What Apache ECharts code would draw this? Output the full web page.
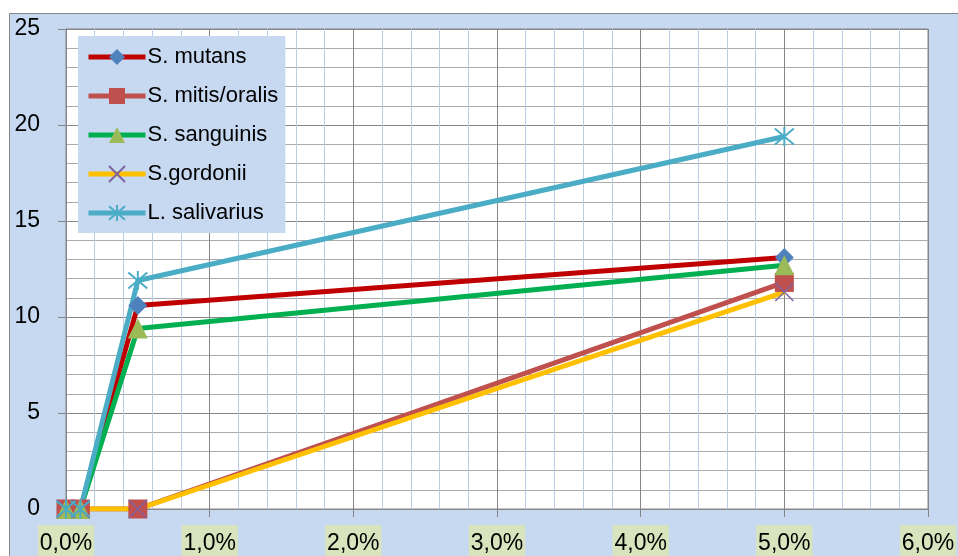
<!DOCTYPE html>
<html>
<head>
<meta charset="utf-8">
<script src="https://cdn.jsdelivr.net/npm/echarts@6/dist/echarts.min.js"></script>
<style>
  html, body { margin: 0; padding: 0; background: #ffffff; }
  #chart { width: 958px; height: 556px; }
</style>
</head>
<body>
<div id="chart"></div>
<script>
// Concentration (%) on the x axis
const concentrations = [0, 0.1, 0.5, 5];

// Measured values per species
const sMutans      = [0, 0, 10.6, 13.1];
const sMitisOralis = [0, 0, 0, 11.8];
const sSanguinis   = [0, 0, 9.4, 12.7];
const sGordonii    = [0, 0, 0, 11.3];
const lSalivarius  = [0, 0, 11.9, 19.4];

const seriesNames = ['S. mutans', 'S. mitis/oralis', 'S. sanguinis', 'S.gordonii', 'L. salivarius'];

// Axis tick labels
const xTickLabels = ['0,0%', '1,0%', '2,0%', '3,0%', '4,0%', '5,0%', '6,0%'];
const yTickLabels = ['0', '5', '10', '15', '20', '25'];

const FONT = '"Liberation Sans", Arial, sans-serif';

function pairs(values) {
  return concentrations.map((c, i) => [c, values[i]]);
}

const xPath = 'path://M0 0 L10 10 M10 0 L0 10';
const starPath = 'path://M0 0 L10 10 M10 0 L0 10 M5 -1 L5 11';

function lineSeries(name, values, lineColor, symbol, markerStyle, size) {
  return {
    name: name,
    type: 'line',
    data: pairs(values),
    symbol: symbol,
    symbolSize: size,
    showAllSymbol: true,
    lineStyle: { color: lineColor, width: 5 },
    itemStyle: markerStyle,
    emphasis: { disabled: true },
    z: 3
  };
}

const chart = echarts.init(document.getElementById('chart'), null, { renderer: 'canvas' });

chart.setOption({
  animation: false,
  backgroundColor: '#ffffff',
  graphic: [{
    type: 'rect',
    z: -10,
    shape: { x: 9.5, y: 13.5, width: 970, height: 560 },
    style: { fill: '#C6D9F1', stroke: '#868686', lineWidth: 1 }
  }],
  grid: {
    left: 66, top: 29, width: 862, height: 480,
    outerBoundsMode: 'none',
    containLabel: false,
    show: true,
    backgroundColor: '#ffffff',
    borderColor: '#868686',
    borderWidth: 1
  },
  legend: {
    data: seriesNames,
    orient: 'vertical',
    left: 78, top: 36,
    padding: [9, 7, 8, 8],
    backgroundColor: '#C6D9F1',
    itemWidth: 57,
    itemHeight: 20,
    itemGap: 15,
    selectedMode: false,
    lineStyle: { width: 5 },
    textStyle: { fontFamily: FONT, fontSize: 22, lineHeight: 24, color: '#000000', padding: [0, 0, 0, -3] }
  },
  xAxis: {
    type: 'value',
    min: 0, max: 6, interval: 1,
    axisLine: { show: true, lineStyle: { color: '#868686' } },
    axisTick: { show: true, inside: false, length: 8, lineStyle: { color: '#868686' } },
    axisLabel: {
      margin: 16,
      showMinLabel: true, showMaxLabel: true,
      fontFamily: FONT, fontSize: 23, color: '#000000',
      backgroundColor: '#D7E4BD',
      padding: [7, 2, 8, 2],
      formatter: v => xTickLabels[Math.round(v)]
    },
    splitLine: { show: true, lineStyle: { color: '#868686', width: 1 } },
    minorTick: { show: false, splitNumber: 5 },
    minorSplitLine: { show: true, lineStyle: { color: '#B9CDE5', width: 1 } }
  },
  yAxis: {
    type: 'value',
    min: 0, max: 25, interval: 5,
    axisLine: { show: true, lineStyle: { color: '#868686' } },
    axisTick: { show: true, inside: false, length: 8, lineStyle: { color: '#868686' } },
    axisLabel: {
      margin: 26,
      fontFamily: FONT, fontSize: 23, color: '#000000',
      formatter: v => yTickLabels[Math.round(v / 5)]
    },
    splitLine: { show: true, lineStyle: { color: '#868686', width: 1 } },
    minorTick: { show: false, splitNumber: 5 },
    minorSplitLine: { show: true, lineStyle: { color: '#ABABAB', width: 1 } }
  },
  series: [
    lineSeries(seriesNames[0], sMutans, '#C00000', 'diamond', { color: '#4F81BD' }, 19),
    lineSeries(seriesNames[1], sMitisOralis, '#C0504D', 'rect', { color: '#C0504D' }, 19),
    lineSeries(seriesNames[2], sSanguinis, '#00B050', 'triangle', { color: '#9BBB59' }, 20),
    lineSeries(seriesNames[3], sGordonii, '#FFC000', xPath,
      { color: 'none', borderColor: '#8064A2', borderWidth: 1.5 }, 18),
    lineSeries(seriesNames[4], lSalivarius, '#4BACC6', starPath,
      { color: 'none', borderColor: '#4BACC6', borderWidth: 2 }, 19)
  ]
});
</script>
</body>
</html>
